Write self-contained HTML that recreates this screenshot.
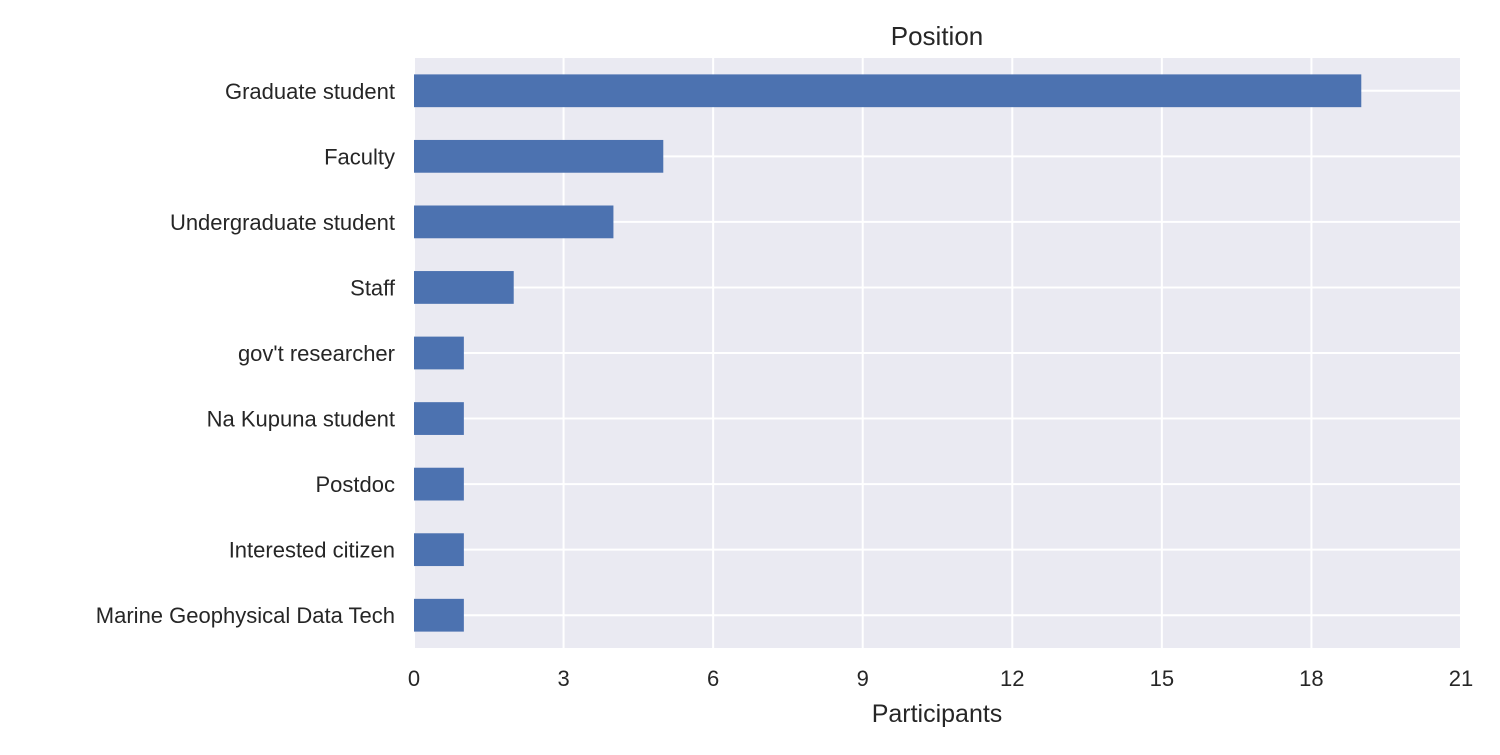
<!DOCTYPE html>
<html><head><meta charset="utf-8"><style>
body{margin:0;background:#fff;}
svg text{font-family:"Liberation Sans",sans-serif;fill:#262626;}
</style></head><body>
<svg width="1500" height="750" xmlns="http://www.w3.org/2000/svg">
<rect x="414" y="58" width="1047" height="590" fill="#eaeaf2"/>
<g id="grid"></g><g id="bars"></g><g id="labels"></g>
<text x="937" y="45" font-size="26" text-anchor="middle">Position</text>
<text x="937" y="722" font-size="25" text-anchor="middle">Participants</text>
</svg>
<script>
const categories=["Graduate student","Faculty","Undergraduate student","Staff","gov't researcher","Na Kupuna student","Postdoc","Interested citizen","Marine Geophysical Data Tech"];
const values=[19,5,4,2,1,1,1,1,1];
const xTicks=[0,3,6,9,12,15,18,21];
const NS="http://www.w3.org/2000/svg";
const x0=414,x1=1461,y0=58,y1=648;
const xs=v=>x0+(v-0)/(21-0)*(x1-x0);
const band=(y1-y0)/categories.length;
const ys=i=>y0+band*(i+0.5);
const grid=document.getElementById('grid'),bars=document.getElementById('bars'),labels=document.getElementById('labels');
function mk(t,a,p){const e=document.createElementNS(NS,t);for(const k in a)e.setAttribute(k,a[k]);p.appendChild(e);return e;}
xTicks.forEach(t=>{
const l=mk('line',{x1:xs(t),x2:xs(t),y1:y0,y2:y1,stroke:'#fff','stroke-width':2},grid);


const tx=mk('text',{x:xs(t),y:686,'font-size':22,'text-anchor':'middle'},labels);
tx.textContent=t;


});
categories.forEach((c,i)=>{
const l=mk('line',{x1:x0,x2:x1,y1:ys(i),y2:ys(i),stroke:'#fff','stroke-width':2},grid);


const h=band*0.5;
const r=mk('rect',{x:x0,y:ys(i)-h/2,width:xs(values[i])-x0,height:h,fill:'#4c72b0'},bars);


const tx=mk('text',{x:395,y:ys(i)+8,'font-size':22,'text-anchor':'end'},labels);
tx.textContent=c;


});
</script>
</body></html>
